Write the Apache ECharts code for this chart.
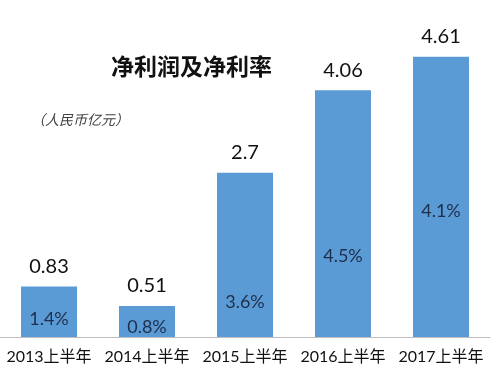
<!DOCTYPE html>
<html>
<head>
<meta charset="utf-8">
<script src="https://cdn.jsdelivr.net/npm/echarts@6/dist/echarts.min.js"></script>
<style>html,body{margin:0;padding:0;background:#fff;}#c{width:500px;height:372px;}</style>
</head>
<body>
<div id="c"></div>
<script>
var categories = ['2013上半年', '2014上半年', '2015上半年', '2016上半年', '2017上半年'];
var netProfit = [0.83, 0.51, 2.7, 4.06, 4.61];
var netMargin = ['1.4%', '0.8%', '3.6%', '4.5%', '4.1%'];

// style: distance of each margin label from the bar's bottom (px)
var marginLabelDistance = [9, 1, 26, 72, 117];

var chart = echarts.init(document.getElementById('c'));
var font = 'Lato, "Noto Sans CJK SC", sans-serif';
chart.setOption({
  animation: false,
  backgroundColor: '#ffffff',
  title: [
    { text: '净利润及净利率', left: 106, top: 50,
      textStyle: { fontFamily: '"Noto Sans CJK SC", serif', fontSize: 23, fontWeight: 'bold', color: '#111' } },
    { text: '（人民币亿元）', left: 26, top: 108,
      textStyle: { fontFamily: '"Noto Sans CJK SC", sans-serif', fontSize: 14, fontStyle: 'italic', fontWeight: 'normal', color: '#404040' } }
  ],
  grid: { left: 0, right: 10, top: 33, bottom: 35 },
  xAxis: {
    type: 'category',
    data: categories,
    axisLine: { lineStyle: { color: '#bfbfbf', width: 1 } },
    axisTick: { show: false },
    axisLabel: { margin: 12, fontSize: 16, color: '#111', fontFamily: font, interval: 0 }
  },
  yAxis: { type: 'value', min: 0, max: 5, show: false, splitLine: { show: false } },
  series: [
    {
      type: 'bar',
      data: netProfit,
      barWidth: 56,
      itemStyle: { color: '#5b9bd5' },
      label: { show: true, position: 'top', distance: 10, fontSize: 20, color: '#111', fontFamily: font }
    },
    {
      type: 'bar',
      barGap: '-100%',
      barWidth: 56,
      silent: true,
      itemStyle: { color: 'rgba(0,0,0,0)' },
      data: netProfit.map(function (v, i) {
        return {
          value: v,
          label: {
            show: true, position: 'insideBottom', distance: marginLabelDistance[i],
            formatter: function () { return netMargin[i]; },
            fontSize: 18, color: '#1f2e4a', fontFamily: font
          }
        };
      })
    }
  ]
});
</script>
</body>
</html>
